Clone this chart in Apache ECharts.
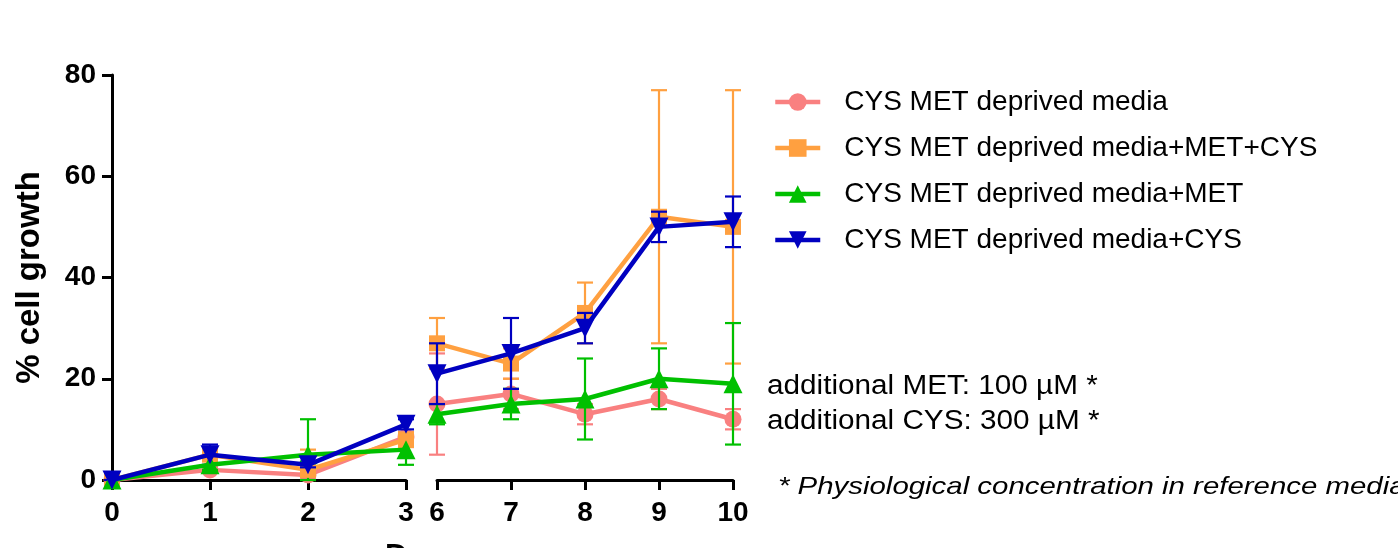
<!DOCTYPE html>
<html>
<head>
<meta charset="utf-8">
<script src="https://cdn.jsdelivr.net/npm/echarts@6/dist/echarts.min.js"></script>
<style>
html,body{margin:0;padding:0;background:#fff;}
#chart{width:1398px;height:548px;}
</style>
</head>
<body>
<div id="chart"></div>
<script>
// ---- data ----
const daysLeft = [0, 1, 2, 3];
const daysRight = [6, 7, 8, 9, 10];
const yTicks = [0, 20, 40, 60, 80];
const seriesNames = [
  'CYS MET deprived media',
  'CYS MET deprived media+MET+CYS',
  'CYS MET deprived media+MET',
  'CYS MET deprived media+CYS'
];
// means for days 0,1,2,3,6,7,8,9,10
const meanDeprived   = [0, 2, 1, 8.5, 15, 17, 13, 16, 12];
const meanMetCys     = [0, 5, 2, 8, 27, 23, 33, 52, 50];
const meanMet        = [0, 3, 5, 6, 13, 15, 16, 20, 19];
const meanCys        = [0, 5, 3, 11, 21, 25, 30, 50, 51];
// error (+/-) for days 0,1,2,3,6,7,8,9,10
const errDeprived    = [0, 0.5, 0.5, 1, 10, 3, 2, 2, 2];
const errMetCys      = [0, 1, 4, 1.5, 5, 3, 6, 25, 27];
const errMet         = [0, 1, 7, 3, 2, 3, 8, 6, 12];
const errCys         = [0, 2, 0.5, 1, 6, 7, 3, 3, 5];

const colors = ['#F98080', '#FFA040', '#00C000', '#0000C0'];
const symbols = ['circle', 'rect', 'triangle', 'triangle'];
const rotations = [0, 0, 0, 180];
const symSizes = [17, 16, 19, 19];
const means = [meanDeprived, meanMetCys, meanMet, meanCys];
const errs = [errDeprived, errMetCys, errMet, errCys];

const allDays = daysLeft.concat(daysRight);

const chart = echarts.init(document.getElementById('chart'), null, {renderer: 'canvas'});

const FONT = 'Liberation Sans, Arial, sans-serif';
const axisLine = {show: true, lineStyle: {color: '#000', width: 3}};
const axisTick = {show: true, length: 10, lineStyle: {color: '#000', width: 3}};
const tickFont = {color: '#000', fontFamily: FONT, fontWeight: 'bold', fontSize: 28};

function errorSeries(k, gridIdx, days) {
  const data = days.map(d => {
    const i = allDays.indexOf(d);
    return [d, means[k][i] - errs[k][i], means[k][i] + errs[k][i]];
  });
  return {
    type: 'custom',
    name: seriesNames[k] + ' (SD)',
    xAxisIndex: gridIdx, yAxisIndex: gridIdx,
    clip: false,
    z: 2 + k,
    silent: true,
    data: data,
    renderItem: function (params, api) {
      const x = api.value(0);
      const lo = api.coord([x, Math.max(api.value(1), 0)]);
      const hi = api.coord([x, api.value(2)]);
      const hw = 8;
      const style = {stroke: colors[k], lineWidth: 2.2, fill: null};
      return {
        type: 'group',
        children: [
          {type: 'line', shape: {x1: lo[0], y1: lo[1], x2: hi[0], y2: hi[1]}, style: style},
          {type: 'line', shape: {x1: hi[0] - hw, y1: hi[1], x2: hi[0] + hw, y2: hi[1]}, style: style},
          {type: 'line', shape: {x1: lo[0] - hw, y1: lo[1], x2: lo[0] + hw, y2: lo[1]}, style: style}
        ]
      };
    }
  };
}

function lineSeries(k, gridIdx, days) {
  const data = days.map(d => [d, means[k][allDays.indexOf(d)]]);
  return {
    type: 'line',
    name: seriesNames[k],
    xAxisIndex: gridIdx, yAxisIndex: gridIdx,
    data: data,
    symbol: symbols[k],
    symbolRotate: rotations[k],
    symbolSize: symSizes[k],
    showAllSymbol: true,
    clip: false,
    z: 3 + k,
    lineStyle: {color: colors[k], width: 4.5},
    itemStyle: {color: colors[k], borderWidth: 0},
    emphasis: {disabled: true},
    animation: false
  };
}

const series = [];
for (let k = 0; k < 4; k++) {
  series.push(lineSeries(k, 0, daysLeft));
  series.push(lineSeries(k, 1, daysRight));
}
for (let k = 0; k < 4; k++) {
  series.push(errorSeries(k, 0, daysLeft));
  series.push(errorSeries(k, 1, daysRight));
}

const option = {
  animation: false,
  backgroundColor: '#fff',
  grid: [
    {left: 112, top: 75, width: 294, height: 405},
    {left: 437, top: 75, width: 296, height: 405}
  ],
  xAxis: [
    {type: 'value', gridIndex: 0, min: 0, max: 3, interval: 1, splitLine: {show: false},
      axisLine: axisLine, axisTick: axisTick, axisLabel: Object.assign({margin: 19}, tickFont)},
    {type: 'value', gridIndex: 1, min: 6, max: 10, interval: 1, splitLine: {show: false},
      axisLine: axisLine, axisTick: axisTick, axisLabel: Object.assign({margin: 19}, tickFont)}
  ],
  yAxis: [
    {type: 'value', gridIndex: 0, min: yTicks[0], max: yTicks[yTicks.length - 1], interval: yTicks[1] - yTicks[0],
      splitLine: {show: false}, axisLine: axisLine, axisTick: axisTick,
      axisLabel: Object.assign({margin: 16}, tickFont),
      name: '% cell growth', nameLocation: 'middle', nameGap: 66,
      nameTextStyle: {color: '#000', fontFamily: FONT, fontWeight: 'bold', fontSize: 33}},
    {type: 'value', gridIndex: 1, min: yTicks[0], max: yTicks[yTicks.length - 1], interval: yTicks[1] - yTicks[0],
      show: false, splitLine: {show: false}}
  ],
  legend: {
    orient: 'vertical',
    left: 773, top: 88,
    padding: 0,
    itemWidth: 45, itemHeight: 22,
    itemGap: 18,
    selectedMode: false,
    data: seriesNames,
    lineStyle: {width: 4.5},
    textStyle: {color: '#000', fontFamily: FONT, fontSize: 28, padding: [0, 0, 0, 19]}
  },
  graphic: [
    {type: 'text', left: 385, top: 542, style: {text: 'Days', fill: '#000', font: 'bold 31px "Liberation Sans", Arial, sans-serif'}},
    {type: 'text', x: 767, y: 373, scaleX: 1.1, style: {text: 'additional MET: 100 µM *', fill: '#000', font: '27px "Liberation Sans", Arial, sans-serif'}},
    {type: 'text', x: 767, y: 408, scaleX: 1.1, style: {text: 'additional CYS: 300 µM *', fill: '#000', font: '27px "Liberation Sans", Arial, sans-serif'}},
    {type: 'text', x: 778, y: 475, scaleX: 1.225, style: {text: '* Physiological concentration in reference media', fill: '#000', font: 'italic 24px "Liberation Sans", Arial, sans-serif'}}
  ],
  series: series
};
chart.setOption(option);
</script>
</body>
</html>
